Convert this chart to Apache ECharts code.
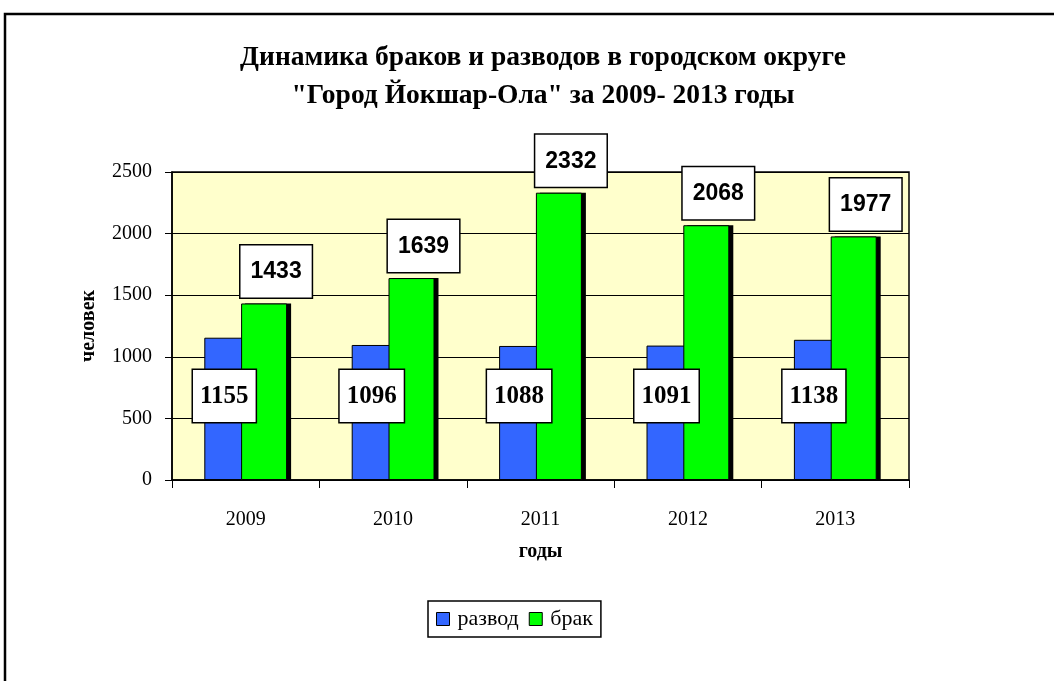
<!DOCTYPE html>
<html>
<head>
<meta charset="utf-8">
<script src="https://cdn.jsdelivr.net/npm/echarts@6/dist/echarts.min.js"></script>
<style>
  html, body { margin: 0; padding: 0; background: #fff; }
  #chart { width: 1054px; height: 681px; }
</style>
</head>
<body>
<div id="chart"></div>
<script>
// годы и значения
const years = ['2009', '2010', '2011', '2012', '2013'];
const divorces = [1155, 1096, 1088, 1091, 1138];
const marriages = [1433, 1639, 2332, 2068, 1977];

const serif = '"Liberation Serif", "Times New Roman", serif';
const sans = '"Liberation Sans", Arial, sans-serif';

const chart = echarts.init(document.getElementById('chart'));

const axisText = { fontFamily: serif, fontSize: 20, color: '#000' };

const option = {
    animation: false,
    backgroundColor: '#fff',
    title: {
        text: 'Динамика браков и разводов в городском округе\n"Город Йокшар-Ола" за 2009- 2013 годы',
        left: 538,
        top: 34,
        textAlign: 'center',
        textStyle: {
            fontFamily: serif,
            fontWeight: 'bold',
            fontSize: 27.5,
            lineHeight: 38,
            color: '#000',
        },
    },
    graphic: [
        {
            type: 'rect',
            shape: { x: 5, y: 14, width: 1100, height: 800 },
            style: { fill: 'none', stroke: '#000', lineWidth: 2.5 },
            z: 0,
        },
    ],
    legend: {
        data: ['развод', 'брак'],
        left: 428,
        top: 601,
        icon: 'rect',
        itemWidth: 13,
        itemHeight: 13,
        itemGap: 10,
        padding: [7, 8, 7, 8],
        borderColor: '#000',
        borderWidth: 1.5,
        backgroundColor: '#fff',
        textStyle: { fontFamily: serif, fontSize: 22, color: '#000', padding: [0, 0, 0, 3] },
        itemStyle: { borderColor: '#000', borderWidth: 1 },
    },
    grid: {
        left: 172,
        right: 145,
        top: 172,
        bottom: 201,
        show: true,
        backgroundColor: '#FFFFCC',
        borderColor: '#000',
        borderWidth: 1.5,
    },
    xAxis: [
        {
            type: 'category',
            data: years,
            name: 'годы',
            nameLocation: 'middle',
            nameGap: 62,
            nameTextStyle: { fontFamily: serif, fontWeight: 'bold', fontSize: 20, color: '#000' },
            axisLine: { lineStyle: { color: '#000', width: 1.5 } },
            axisTick: { show: true, length: 8, lineStyle: { color: '#000' } },
            axisLabel: { ...axisText, margin: 30 },
        },
        // скрытая ось для тени зелёных столбцов
        { type: 'category', data: years, show: false },
    ],
    yAxis: {
        type: 'value',
        min: 0,
        max: 2500,
        interval: 500,
        name: 'человек',
        nameLocation: 'middle',
        nameGap: 73,
        nameTextStyle: { fontFamily: serif, fontWeight: 'bold', fontSize: 20, color: '#000' },
        axisLine: { show: true, lineStyle: { color: '#000', width: 1.5 } },
        axisTick: { show: true, length: 7, lineStyle: { color: '#000' } },
        axisLabel: { ...axisText, margin: 20, formatter: (v) => String(v) },
        splitLine: { lineStyle: { color: '#000', width: 1 } },
    },
    series: [
        {
            name: 'развод',
            type: 'bar',
            data: divorces,
            barWidth: 46,
            barGap: '-20%',
            itemStyle: { color: '#3366FF', borderColor: '#000', borderWidth: 1 },
            label: {
                show: true,
                position: 'insideBottom',
                distance: 58,
                offset: [-3, 0],
                fontFamily: serif,
                fontWeight: 'bold',
                fontSize: 25,
                color: '#000',
                backgroundColor: '#fff',
                borderColor: '#000',
                borderWidth: 1.5,
                padding: [14, 7, 13, 7],
            },
            z: 2,
        },
        {
            name: 'брак',
            type: 'bar',
            data: marriages,
            barWidth: 46,
            itemStyle: { color: '#00FF00', borderColor: '#000', borderWidth: 1 },
            label: {
                show: true,
                position: 'top',
                distance: 6,
                offset: [12, 0],
                fontFamily: sans,
                fontWeight: 'bold',
                fontSize: 23,
                color: '#000',
                backgroundColor: '#fff',
                borderColor: '#000',
                borderWidth: 1.5,
                padding: [15, 10, 14, 10],
            },
            z: 2,
        },
        // тень: те же столбцы, сдвинутые вправо на 4px
        {
            name: 'ghost',
            type: 'bar',
            xAxisIndex: 1,
            data: divorces,
            barWidth: 46,
            barGap: '-2.6%',
            itemStyle: { color: 'transparent' },
            silent: true,
            z: 1,
        },
        {
            name: 'shadow',
            type: 'bar',
            xAxisIndex: 1,
            data: marriages,
            barWidth: 46,
            itemStyle: { color: '#000' },
            silent: true,
            z: 1,
        },
    ],
};

chart.setOption(option);
</script>
</body>
</html>
